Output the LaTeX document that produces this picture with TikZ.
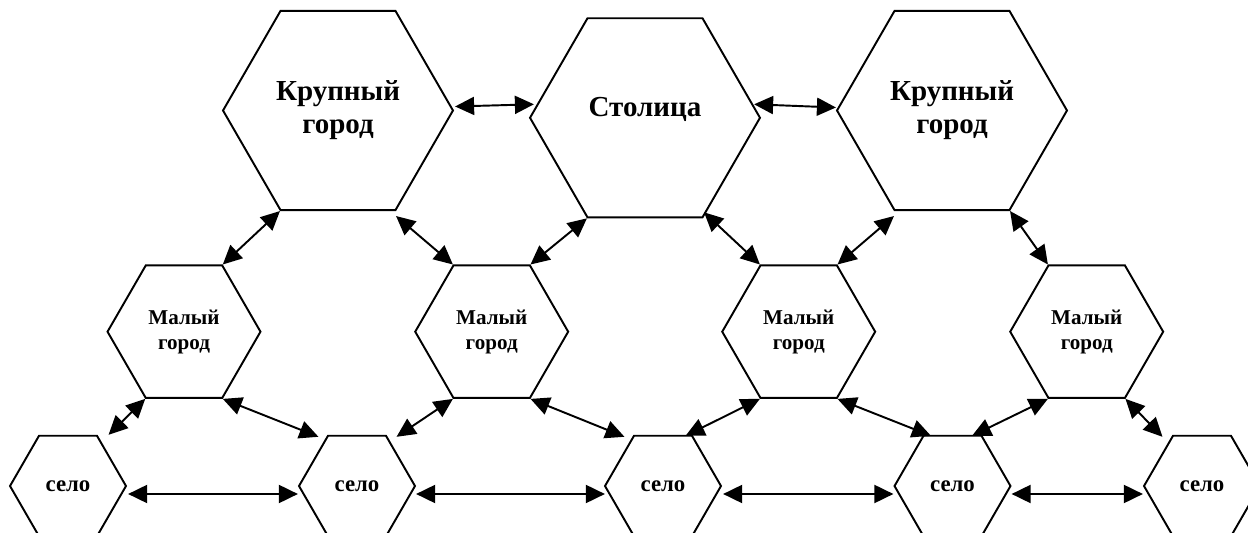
\documentclass[tikz,border=0pt]{standalone}
\usepackage{fontspec}
\setmainfont{Liberation Serif}
\usepackage{tikz}
\usetikzlibrary{arrows.meta, shapes.geometric}

\begin{document}
\begin{tikzpicture}[
        x=0.02cm, y=-0.02cm,
        hex/.style={regular polygon, regular polygon sides=6, draw, line width=1.1pt, inner sep=0pt, align=center},
        bighex/.style={hex, minimum size=4.6cm, font=\fontsize{16.5}{18.8}\selectfont\bfseries},
        midhex/.style={hex, minimum size=3.06cm, font=\fontsize{12}{14.2}\selectfont\bfseries},
        smallhex/.style={hex, minimum size=2.32cm, font=\fontsize{13}{15}\selectfont\bfseries},
        link/.style={{Triangle[length=0.38cm, width=0.36cm]}-{Triangle[length=0.38cm, width=0.36cm]}, line width=1.1pt}
    ]
    \useasboundingbox (0,0) rectangle (1248,533);

    % Large cities and the capital
    \node[bighex] (K1) at (338, 110.5) {Крупный\\город};
    \node[bighex] (Cap) at (645, 117.8) {\raisebox{0.16cm}[\height][\depth]{Столица}};
    \node[bighex] (K2) at (952, 110.5) {Крупный\\город};

    % Small towns
    \node[midhex] (M1) at (184, 331.7) {Малый\\город};
    \node[midhex] (M2) at (491.7, 331.7) {Малый\\город};
    \node[midhex] (M3) at (798.7, 331.7) {Малый\\город};
    \node[midhex] (M4) at (1086.7, 331.7) {Малый\\город};

    % Villages
    \node[smallhex] (S1) at (68, 486) {село};
    \node[smallhex] (S2) at (357, 486) {село};
    \node[smallhex] (S3) at (663, 486) {село};
    \node[smallhex] (S4) at (952.5, 486) {село};
    \node[smallhex] (S5) at (1202, 486) {село};

    % Links along the top row
    \draw[link] ([shift={(1,-4)}]K1.east) -- ([shift={(5,-13.5)}]Cap.west);
    \draw[link] ([shift={(-7,-13.5)}]Cap.east) -- ([shift={(0,-3)}]K2.west);

    % Links between large cities and small towns
    \draw[link] (K1.corner 4) -- (M1.corner 1);
    \draw[link] ([shift={(0,5)}]K1.corner 5) -- (M2.corner 2);
    \draw[link] (Cap.corner 4) -- (M2.corner 1);
    \draw[link] ([shift={(1,-6)}]Cap.corner 5) -- (M3.corner 2);
    \draw[link] ([shift={(0,5)}]K2.corner 4) -- (M3.corner 1);
    \draw[link] (K2.corner 5) -- (M4.corner 2);

    % Links between small towns and villages
    \draw[link] (M1.corner 4) -- ([shift={(11,0)}]S1.corner 1);
    \draw[link] (M1.corner 5) -- ([shift={(-9,2)}]S2.corner 2);
    \draw[link] (M2.corner 4) -- ([shift={(10,2)}]S2.corner 1);
    \draw[link] (M2.corner 5) -- ([shift={(-9,2)}]S3.corner 2);
    \draw[link] (M3.corner 4) -- ([shift={(-7,1)}]S3.corner 1);
    \draw[link] (M3.corner 5) -- ([shift={(8,1)}]S4.corner 2);
    \draw[link] (M4.corner 4) -- ([shift={(-10,1)}]S4.corner 1);
    \draw[link] (M4.corner 5) -- ([shift={(-10,2)}]S5.corner 2);

    % Links along the bottom row
    \draw[link] ([shift={(1,8)}]S1.east) -- ([shift={(0,8)}]S2.west);
    \draw[link] ([shift={(0,8)}]S2.east) -- ([shift={(1,8)}]S3.west);
    \draw[link] ([shift={(1,8)}]S3.east) -- ([shift={(0,8)}]S4.west);
    \draw[link] ([shift={(0,8)}]S4.east) -- ([shift={(0,8)}]S5.west);

\end{tikzpicture}
\end{document}
